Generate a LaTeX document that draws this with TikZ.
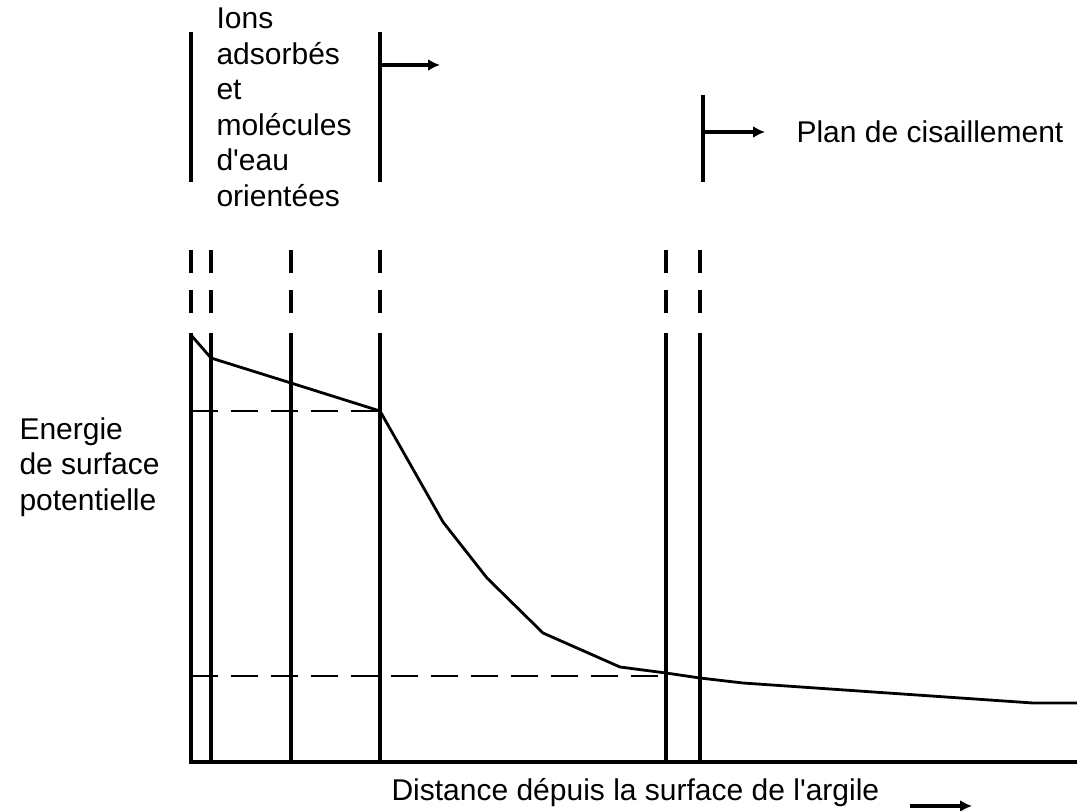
\documentclass[tikz,border=0pt]{standalone}
\usepackage{fontspec}
\setmainfont{Liberation Sans}[Ligatures=TeXOff]
\usetikzlibrary{arrows.meta}
\begin{document}
\begin{tikzpicture}[x=1pt,y=-1pt,>={Latex[length=12pt,width=12pt]},line width=3.1pt,
  txt/.style={inner sep=0pt,align=left,font=\fontsize{30}{35.5}\selectfont},
  vdash/.style={dash pattern=on 23pt off 17pt},
  hdash/.style={line width=2.9pt,dash pattern=on 27pt off 13pt}]
\useasboundingbox (0,0) rectangle (1077,811);
\coordinate (O) at (191,762);
\coordinate (X) at (1077,762);
\draw (191,335)--(O)--(X);
\foreach \x in {191,211,291,380,666,700}{
  \draw[vdash](\x,250)--(\x,315);
  \draw(\x,333)--(\x,762);
}
\draw[line width=2.8pt,line join=round](191,335)--(211,358)--(291,383)--(380,411)--(443,522)--(487,578)
  --(543,633)--(620,667)--(666,673)--(700,678)--(743,683)--(1033,703)--(1077,703);
\draw[hdash](191,411)--(380,411);
\draw[hdash](191,676)--(666,676);
% couches en haut
\coordinate (a1) at (380,65);
\coordinate (a2) at (703,132);
\coordinate (a3) at (910,806);
\draw(191,32)--(191,182);
\draw(380,32)--(380,182);
\draw(703,95)--(703,182);
\draw[->](a1)--++(60,0);
\draw[->](a2)--++(62,0);
\draw[->](a3)--++(62,0);
\node[txt,anchor=north west](ions) at (215,6.5) {Ions\\adsorbés\\et\\molécules\\d'eau\\orientées};
\node[txt,anchor=base west](plan) at (795,142) {Plan de cisaillement};
\node[txt,anchor=north west](energie) at (18,416) {Energie\\de surface\\potentielle};
\node[txt,anchor=base west](dist) at (390,800) {Distance dépuis la surface de l'argile};
\end{tikzpicture}
\end{document}
